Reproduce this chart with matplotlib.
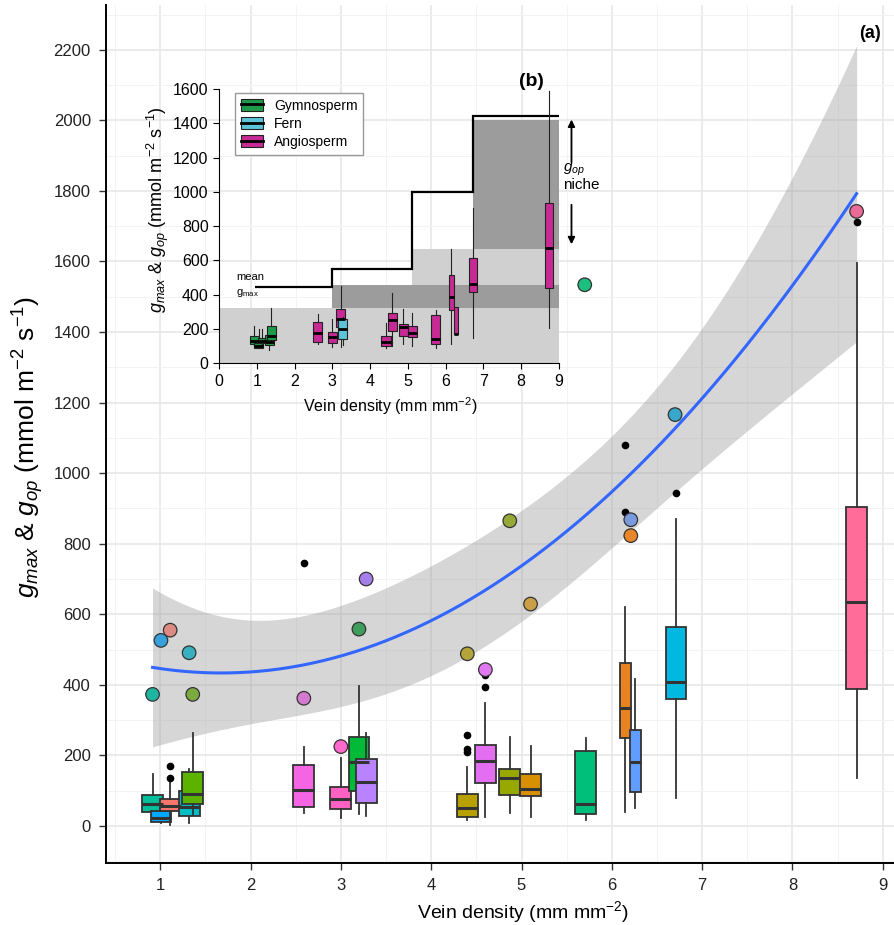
import numpy as np
import matplotlib.pyplot as plt
from matplotlib.patches import Patch
from matplotlib.lines import Line2D
from matplotlib.legend_handler import HandlerTuple
from matplotlib.ticker import MultipleLocator

plt.rcParams['font.family'] = ['Liberation Sans', 'DejaVu Sans']
plt.rcParams['mathtext.fontset'] = 'custom'
plt.rcParams['mathtext.rm'] = 'Liberation Sans'
plt.rcParams['mathtext.it'] = 'Liberation Sans:italic'
plt.rcParams['mathtext.bf'] = 'Liberation Sans:bold'

# ---- panel (a): g_op distribution per species ----
vein = [0.915, 1.008, 1.11, 1.32, 1.36, 2.59, 3.0, 3.2, 3.28,
        4.40, 4.60, 4.87, 5.10, 5.71, 6.15, 6.26, 6.71, 8.71]
gop_whislo = [30, 8, 3, 8, 31, 36, 24, 34, 28, 17, 26, 38, 26, 17, 39, 50, 79, 135]
gop_q1 = [39, 12, 43, 27, 63, 53, 47, 99, 64, 26, 122, 88, 85, 33, 250, 95, 359, 388]
gop_med = [61, 24, 58, 55, 91, 102, 76, 180, 126, 50, 184, 137, 104, 61, 334, 182, 409, 636]
gop_q3 = [88, 43, 77, 99, 154, 173, 110, 251, 190, 91, 230, 161, 148, 213, 463, 272, 563, 904]
gop_whishi = [147, 55, 128, 162, 263, 223, 192, 398, 264, 168, 348, 251, 227, 249, 620, 416, 870, 1597]
gop_outliers = [[], [], [137, 170], [], [], [745], [], [], [],
                [210, 218, 258], [393, 428], [], [], [], [891, 1080], [], [945], [1712]]
species_colors = ['#00BF9A', '#00A9FF', '#F8766D', '#00BFC4', '#5BB300', '#F564E3',
                  '#FF61C3', '#00BA38', '#B983FF', '#B8A000', '#E46EF2', '#97A800',
                  '#D99000', '#00BF7A', '#E8841F', '#619CFF', '#00B8E0', '#FF6C9A']
box_widths = [0.23] * 14 + [0.12, 0.12, 0.23, 0.23]

# g_max per species
gmax_x = [0.915, 1.008, 1.11, 1.32, 1.36, 2.59, 3.0, 3.2, 3.28,
          4.40, 4.60, 4.87, 5.10, 5.70, 6.21, 6.21, 6.70, 8.71]
gmax = [373, 526, 555, 491, 373, 362, 225, 558, 700,
        488, 443, 865, 629, 1534, 823, 868, 1166, 1742]
gmax_colors = ['#20B5A0', '#38A0DA', '#DC8A82', '#38B0BF', '#7BAA40', '#D37ACF',
               '#FF68CC', '#3F9E5C', '#A47FEA', '#B5A43A', '#E078F0', '#96A836',
               '#C9A048', '#1CBF7E', '#E8862B', '#7A9ADE', '#37A8C9', '#EC6A98']

# ---- panel (b): inset ----
inset_x = [0.93, 1.05, 1.15, 1.33, 1.38, 2.61, 3.0, 3.22, 3.27,
           4.42, 4.59, 4.88, 5.11, 5.74, 6.15, 6.27, 6.72, 8.73]
inset_group = ['Gymnosperm'] * 5 + ['Angiosperm'] * 3 + ['Fern'] + ['Angiosperm'] * 9
inset_whislo = [100, 88, 110, 80, 123, 111, 97, 97, 107, 91, 101, 113, 101, 91, 113, 169, 150, 204]
inset_q1 = [110, 88, 117, 106, 139, 126, 117, 214, 140, 101, 190, 161, 156, 113, 311, 169, 414, 441]
inset_med = [130, 100, 131, 125, 160, 175, 152, 257, 198, 126, 253, 210, 175, 140, 389, 169, 463, 675]
inset_q3 = [160, 120, 145, 168, 217, 243, 185, 315, 257, 161, 295, 228, 218, 282, 515, 331, 613, 934]
inset_whishi = [215, 200, 200, 210, 325, 286, 257, 453, 270, 233, 408, 315, 292, 311, 665, 331, 905, 1586]
inset_widths = [0.24] * 14 + [0.12, 0.12, 0.22, 0.22]
group_colors = {'Gymnosperm': '#1E9B4A', 'Fern': '#5CC3D8', 'Angiosperm': '#C72A94'}

class_start = [0, 2.98, 5.11, 6.73]
niche_lo = [0, 320, 458, 665]
niche_hi = [320, 458, 665, 1419]
niche_shade = ['#D0D0D0', '#9C9C9C', '#D0D0D0', '#9C9C9C']
mean_gmax_edges = [0.95, 2.98, 5.11, 6.73, 9.0]
mean_gmax = [444, 548, 1000, 1443]


def box_stats(xs, lo, a, m, b, hi, fl=None):
    out = []
    for i in range(len(xs)):
        out.append({'whislo': lo[i], 'q1': a[i], 'med': m[i], 'q3': b[i],
                    'whishi': hi[i], 'fliers': fl[i] if fl else []})
    return out


fig = plt.figure(figsize=(8.94, 9.25), dpi=100)
ax = fig.add_axes([0.1186, 0.067, 0.881, 0.928])
ax.set_xlim(0.40, 9.12)
ax.set_ylim(-105, 2328)

ax.xaxis.set_major_locator(MultipleLocator(1))
ax.xaxis.set_minor_locator(MultipleLocator(0.5))
ax.yaxis.set_major_locator(MultipleLocator(200))
ax.yaxis.set_minor_locator(MultipleLocator(100))
ax.grid(which='major', color='#E6E6E6', lw=1.1)
ax.grid(which='minor', color='#F3F3F3', lw=0.7)
ax.set_axisbelow(True)
for s in ['top', 'right']:
    ax.spines[s].set_visible(False)
for s in ['left', 'bottom']:
    ax.spines[s].set_linewidth(1.4)
ax.tick_params(which='major', direction='out', length=5, width=1, color='#333333',
               labelsize=12, labelcolor='#222222', pad=6)
ax.tick_params(which='minor', length=0)

# quadratic fit of gmax with 95% confidence band
gx = np.array(gmax_x, dtype=float)
gy = np.array(gmax, dtype=float)
X = np.vstack([np.ones_like(gx), gx, gx ** 2]).T
beta = np.linalg.lstsq(X, gy, rcond=None)[0]
resid = gy - X @ beta
s2 = resid @ resid / (len(gx) - 3)
cov = s2 * np.linalg.inv(X.T @ X)
xs = np.linspace(gx.min(), gx.max(), 200)
Xs = np.vstack([np.ones_like(xs), xs, xs ** 2]).T
fit = Xs @ beta
se = np.sqrt(np.einsum('ij,jk,ik->i', Xs, cov, Xs))
t_val = 2.131
ax.fill_between(xs, fit - t_val * se, fit + t_val * se, color='#999999', alpha=0.4,
                lw=0, zorder=1)
ax.plot(xs, fit, color='#3366FF', lw=2.2, zorder=2)

stats = box_stats(vein, gop_whislo, gop_q1, gop_med, gop_q3, gop_whishi, gop_outliers)
bp = ax.bxp(stats, positions=vein, widths=box_widths, patch_artist=True, showcaps=False,
            manage_ticks=False, zorder=3,
            boxprops=dict(edgecolor='#333333', lw=1.3),
            whiskerprops=dict(color='#333333', lw=1.3),
            medianprops=dict(color='#333333', lw=2.2),
            flierprops=dict(marker='o', markerfacecolor='black', markeredgecolor='black',
                            markersize=4.5))
for patch, c in zip(bp['boxes'], species_colors):
    patch.set_facecolor(c)

ax.scatter(gmax_x, gmax, s=95, c=gmax_colors, edgecolors='#333333', linewidths=0.9, zorder=5)

ax.set_xlabel('Vein density (mm mm$^{-2}$)', fontsize=14)
ax.set_ylabel('$g_{max}$ & $g_{op}$ (mmol m$^{-2}$ s$^{-1}$)', fontsize=19)
ax.xaxis.set_label_coords(0.529, -0.042)
ax.yaxis.set_label_coords(-0.076, 0.485)
fig.text(870 / 894, 1 - 33 / 925, '(a)', ha='center', va='center', weight='bold', size=13)

# ---- inset ----
ins = fig.add_axes([0.245, 0.6072, 0.3803, 0.2966])
ins.set_facecolor('none')
ins.set_xlim(0, 9)
ins.set_ylim(0, 1600)
ins.set_xticks(range(0, 10))
ins.set_yticks(range(0, 1601, 200))
for s in ['top', 'right']:
    ins.spines[s].set_visible(False)
for s in ['left', 'bottom']:
    ins.spines[s].set_linewidth(0.8)
ins.tick_params(direction='out', length=4, width=0.8, labelsize=11.5)

for i in range(len(class_start)):
    ins.fill_between([class_start[i], 9], niche_lo[i], niche_hi[i], color=niche_shade[i],
                     lw=0, zorder=1)
ins.stairs(mean_gmax, mean_gmax_edges, baseline=None, color='black', lw=1.6, zorder=2)

istats = box_stats(inset_x, inset_whislo, inset_q1, inset_med, inset_q3, inset_whishi)
ibp = ins.bxp(istats, positions=inset_x, widths=inset_widths, patch_artist=True,
              showcaps=False, showfliers=False, manage_ticks=False, zorder=3,
              boxprops=dict(edgecolor='#222222', lw=0.8),
              whiskerprops=dict(color='#222222', lw=0.8),
              medianprops=dict(color='black', lw=2))
for patch, g in zip(ibp['boxes'], inset_group):
    patch.set_facecolor(group_colors[g])

ins.text(0.45, 504, 'mean', fontsize=8, ha='left', va='center')
ins.text(0.45, 411, r'g$_{\rm max}$', fontsize=8, ha='left', va='center')
ins.annotate('', xy=(9.33, 1438), xytext=(9.33, 1156), annotation_clip=False,
             arrowprops=dict(arrowstyle='-|>', color='black', lw=1.3, mutation_scale=10))
ins.annotate('', xy=(9.33, 678), xytext=(9.33, 941), annotation_clip=False,
             arrowprops=dict(arrowstyle='-|>', color='black', lw=1.3, mutation_scale=10))
ins.text(9.1, 1127, r'$g_{op}$', fontsize=11, ha='left', va='center', clip_on=False)
ins.text(9.1, 1039, 'niche', fontsize=11, ha='left', va='center', clip_on=False)
fig.text(531 / 894, 1 - 82 / 925, '(b)', ha='center', va='center', weight='bold', size=14)

handles = []
labels = ['Gymnosperm', 'Fern', 'Angiosperm']
for g in labels:
    handles.append((Patch(facecolor=group_colors[g], edgecolor='#222222', lw=0.8),
                    Line2D([], [], color='black', lw=2)))
leg = ins.legend(handles, labels, handler_map={tuple: HandlerTuple(ndivide=1)},
                 loc='upper left', bbox_to_anchor=(0.047, 0.985), borderaxespad=0,
                 fontsize=10, fancybox=False, edgecolor='#999999', framealpha=1,
                 handlelength=1.6, handleheight=0.9, labelspacing=0.3)
leg.get_frame().set_linewidth(1.0)

ins.set_xlabel('Vein density (mm mm$^{-2}$)', fontsize=11.5)
ins.set_ylabel('$g_{max}$ & $g_{op}$ (mmol m$^{-2}$ s$^{-1}$)', fontsize=13)
ins.xaxis.set_label_coords(0.503, -0.115)
ins.yaxis.set_label_coords(-0.14, 0.559)

fig.savefig('out.png', dpi=100)
